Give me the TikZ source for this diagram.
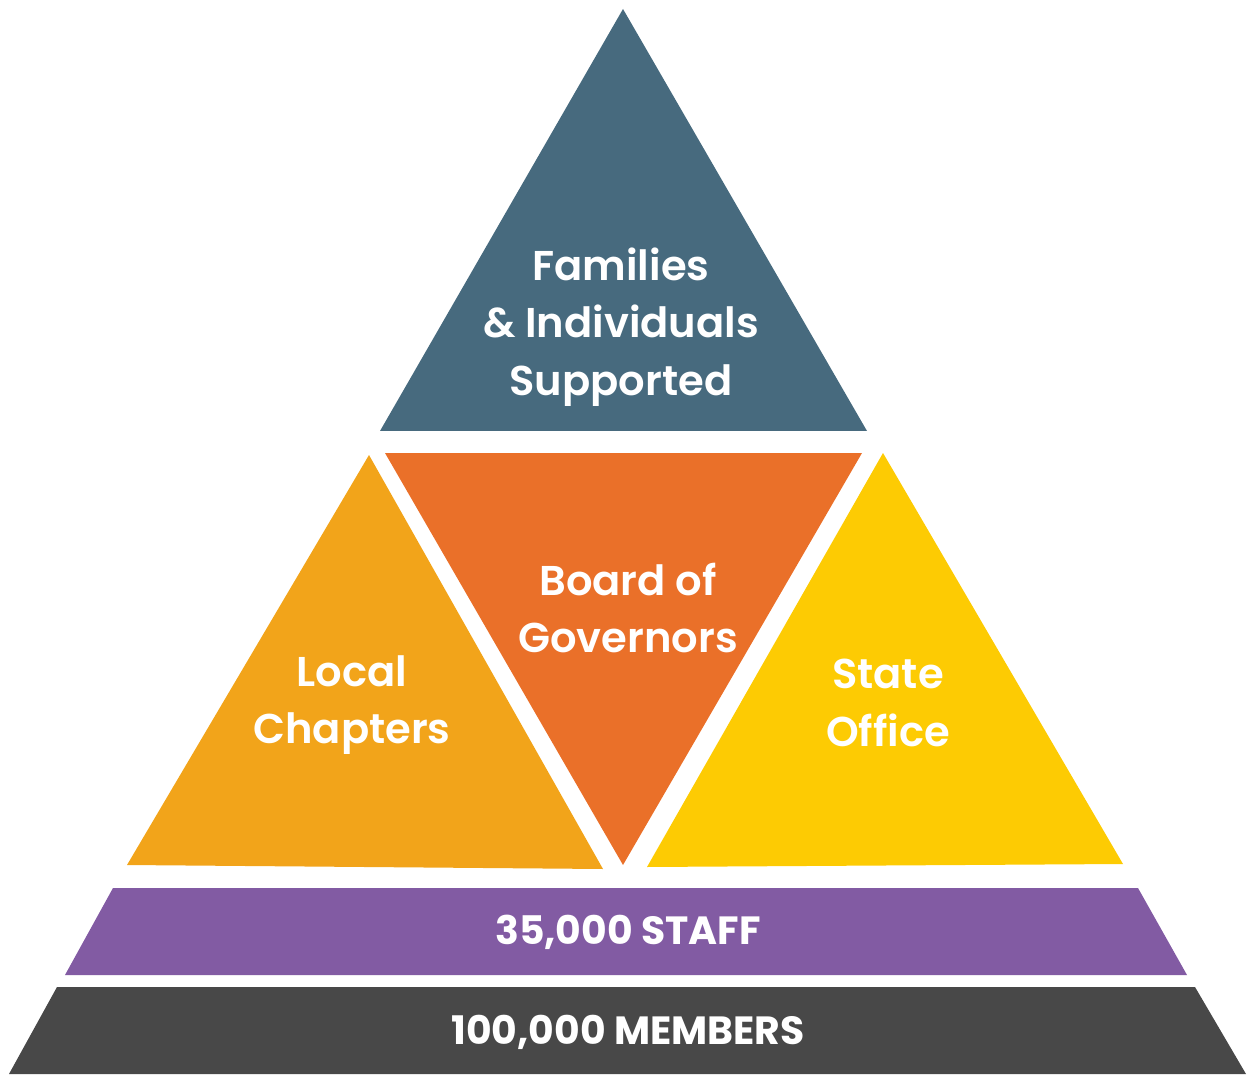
\documentclass[tikz,border=0pt]{standalone}
\usepackage{fontspec}
\setmainfont{Poppins}[BoldFont={Poppins SemiBold}]
\newfontfamily\bandfont{Poppins Bold}
\usetikzlibrary{positioning}
\definecolor{slate}{HTML}{476A7E}
\definecolor{govorange}{HTML}{EA7029}
\definecolor{amber}{HTML}{F2A41A}
\definecolor{sun}{HTML}{FDCB03}
\definecolor{grape}{HTML}{825BA3}
\definecolor{coal}{HTML}{484848}
\tikzset{tier/.style={text=white, align=center, font=\fontsize{23.7}{32.6}\selectfont\bfseries},
         band/.style={text=white, font=\fontsize{22.4}{27}\selectfont\bandfont},
        }

\begin{document}
\begin{tikzpicture}[x=0.02cm,y=-0.02cm]
        \useasboundingbox (0,0) rectangle (1250,1077);
        \fill[slate](623,9)--(867,431)--(380,431)--cycle;
        \fill[govorange](385,453)--(862,453)--(623,865)--cycle;
        \fill[amber](369,455)--(603,869)--(127,865)--cycle;
        \fill[sun](883,453)--(1123,864)--(647,867)--cycle;
        \fill[grape](113,888)--(1138,888)--(1187,975)--(65,975)--cycle;
        \fill[coal](57,987)--(1195,987)--(1246,1074)--(9,1074)--cycle;

        \node[tier](fam)at(621,327){Families\\\& Individuals\\Supported};
        \node[tier](board)at(628,608){Board of\\Governors};
        \node[tier](local)at(352,705){Local\\Chapters};
        \node[tier](state)at(888,703){State\\Office};
        \node[band](staff)at(628,932){35,000 STAFF};
        \node[band](members)at(628,1032){100,000 MEMBERS};
    \end{tikzpicture}
\end{document}
